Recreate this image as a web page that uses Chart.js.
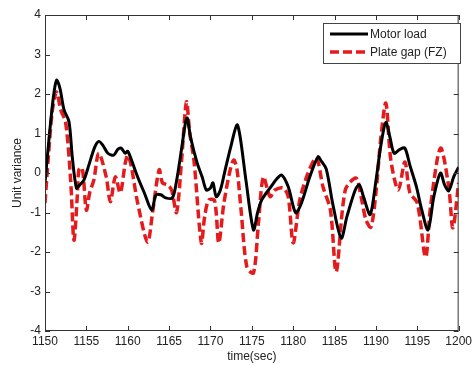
<!DOCTYPE html>
<html>
<head>
<meta charset="utf-8">
<script src="https://cdn.jsdelivr.net/npm/chart.js@4.4.1/dist/chart.umd.min.js"></script>
<style>
  html, body { margin: 0; padding: 0; background: #fff; }
  #wrap { width: 475px; height: 365px; position: relative; }
</style>
</head>
<body>
<div id="wrap"><canvas id="chart"></canvas></div>
<script>
// --- data ---
var motorTime = [1150.0, 1150.5, 1151.0, 1151.4, 1151.8, 1152.3, 1152.9, 1153.3, 1153.8, 1154.2,
  1154.7, 1155.3, 1156.0, 1156.5, 1157.0, 1157.6, 1158.3, 1158.8, 1159.2, 1159.7,
  1160.0, 1160.5, 1161.2, 1162.0, 1162.9, 1163.4, 1164.0, 1164.6, 1165.4, 1165.9,
  1166.5, 1167.0, 1167.2, 1167.6, 1168.4, 1169.0, 1169.5, 1170.0, 1170.3, 1170.7,
  1171.2, 1171.8, 1172.5, 1173.2, 1173.6, 1174.3, 1175.2, 1175.7, 1176.2, 1177.3,
  1178.0, 1178.6, 1179.4, 1180.3, 1181.0, 1182.0, 1183.0, 1183.4, 1184.0, 1184.8,
  1185.8, 1186.5, 1187.5, 1188.0, 1188.5, 1189.3, 1190.0, 1190.6, 1191.2, 1191.7,
  1192.2, 1192.9, 1193.5, 1194.1, 1194.9, 1195.5, 1196.3, 1197.0, 1197.8, 1198.3,
  1198.8, 1199.4, 1200.0];
var motorLoad = [-0.25, 0.9, 1.9, 2.35, 2.15, 1.6, 1.3, 0.4, -0.38, -0.3,
  -0.18, 0.2, 0.65, 0.8, 0.7, 0.5, 0.45, 0.6, 0.63, 0.5,
  0.55, 0.3, -0.1, -0.5, -0.94, -0.56, -0.55, -0.63, -0.63, -0.2,
  0.6, 1.3, 1.39, 0.9, 0.25, -0.1, -0.43, -0.38, -0.25, -0.6,
  -0.43, 0.1, 0.7, 1.22, 0.9, -0.2, -1.44, -1.0, -0.68, -0.35,
  -0.15, -0.05, -0.35, -1.01, -0.76, -0.1, 0.41, 0.3, 0.1, -0.8,
  -1.65, -1.1, -0.43, -0.3, -0.6, -1.05, -0.2, 0.7, 1.28, 0.9,
  0.5, 0.6, 0.63, 0.2, -0.35, -0.9, -1.44, -0.6, 0.0, -0.3,
  -0.45, -0.1, 0.15];

var gapTime = [1150.0, 1150.4, 1150.9, 1151.4, 1151.9, 1152.5, 1153.1, 1153.5, 1153.9, 1154.1,
  1154.5, 1155.0, 1155.4, 1155.9, 1156.5, 1157.4, 1157.9, 1158.5, 1159.1, 1159.7,
  1160.0, 1160.4, 1161.2, 1162.4, 1163.0, 1163.8, 1164.2, 1164.8, 1165.3, 1165.9,
  1166.5, 1167.1, 1167.5, 1168.0, 1168.9, 1169.3, 1169.8, 1170.5, 1171.0, 1171.6,
  1172.3, 1172.8, 1173.2, 1173.7, 1174.4, 1175.2, 1175.8, 1176.4, 1177.2, 1177.8,
  1178.8, 1179.4, 1180.0, 1180.8, 1181.8, 1182.8, 1183.6, 1184.5, 1185.2, 1186.3,
  1187.6, 1188.2, 1188.8, 1189.4, 1190.0, 1190.6, 1191.2, 1191.8, 1192.7, 1193.5,
  1194.1, 1195.0, 1196.0, 1196.6, 1197.8, 1198.8, 1199.3, 1200.0];
var plateGap = [-0.76, 0.4, 1.6, 2.05, 1.6, 1.27, -0.18, -1.7, -0.6, 0.08,
  0.13, -0.94, -0.5, -0.18, 0.5, -0.1, -0.73, -0.1, -0.5, 0.25,
  0.45, 0.2, -0.76, -1.75, -1.0, 0.08, -0.25, -0.3, -0.43, -1.0,
  0.3, 1.8, 1.0, 0.33, -1.77, -1.1, -0.68, -0.7, -1.77, -0.8,
  0.0, 0.33, 0.1, -0.94, -2.38, -2.53, -1.27, -0.1, -0.6, -0.43,
  -0.38, -0.6, -1.77, -0.68, 0.0, 0.38, -0.35, -0.94, -2.5, -0.43,
  -0.13, -0.6, -1.19, -1.37, -0.5, 0.9, 1.77, 0.33, -0.43, 0.28,
  -0.5, -0.76, -2.13, -0.86, 0.63, -0.35, -1.39, -0.25];

var seriesNames = ['Motor load', 'Plate gap (FZ)'];
var xTicks = [1150, 1155, 1160, 1165, 1170, 1175, 1180, 1185, 1190, 1195, 1200];
var yTicks = [-4, -3, -2, -1, 0, 1, 2, 3, 4];

var FONT = '"Liberation Sans", Arial, sans-serif';

function toPoints(xs, ys) {
  return xs.map(function(x, i) { return { x: x, y: ys[i] }; });
}

// MATLAB style box, inward ticks and legend inside the axes
var boxPlugin = {
  id: 'matlabBox',
  afterDatasetsDraw: function(chart) {
    var ctx = chart.ctx, a = chart.chartArea;
    var xs = chart.scales.x, ys = chart.scales.y;
    ctx.save();
    ctx.strokeStyle = '#333';
    ctx.lineWidth = 1;
    ctx.strokeRect(a.left + 0.5, a.top + 0.5, a.right - a.left - 1, a.bottom - a.top - 1);
    ctx.beginPath();
    xTicks.forEach(function(v) {
      var px = Math.round(xs.getPixelForValue(v)) + 0.5;
      ctx.moveTo(px, a.bottom); ctx.lineTo(px, a.bottom - 5);
      ctx.moveTo(px, a.top); ctx.lineTo(px, a.top + 5);
    });
    yTicks.forEach(function(v) {
      var py = Math.round(ys.getPixelForValue(v)) + 0.5;
      ctx.moveTo(a.left, py); ctx.lineTo(a.left + 5, py);
      ctx.moveTo(a.right, py); ctx.lineTo(a.right - 5, py);
    });
    ctx.stroke();

    // legend box
    var lx = 323, ly = 23, lw = 137, lh = 40;
    ctx.fillStyle = '#fff';
    ctx.fillRect(lx, ly, lw, lh);
    ctx.strokeStyle = '#444';
    ctx.strokeRect(lx + 0.5, ly + 0.5, lw, lh);
    ctx.font = '12px ' + FONT;
    ctx.textBaseline = 'middle';
    chart.data.datasets.forEach(function(ds, i) {
      var yy = ly + 11 + i * 18;
      ctx.beginPath();
      ctx.strokeStyle = ds.borderColor;
      ctx.lineWidth = ds.borderWidth;
      ctx.setLineDash(ds.borderDash || []);
      ctx.moveTo(lx + 7, yy); ctx.lineTo(lx + 45, yy);
      ctx.stroke();
      ctx.setLineDash([]);
      ctx.fillStyle = '#222';
      ctx.fillText(ds.label, lx + 47, yy + 1);
    });
    ctx.restore();
  }
};

new Chart(document.getElementById('chart'), {
  type: 'line',
  data: {
    datasets: [
      {
        label: seriesNames[0],
        data: toPoints(motorTime, motorLoad),
        borderColor: '#000',
        borderWidth: 3,
        pointRadius: 0,
        tension: 0.3,
        fill: false
      },
      {
        label: seriesNames[1],
        data: toPoints(gapTime, plateGap),
        borderColor: '#e41a1c',
        borderWidth: 3.5,
        borderDash: [9, 4],
        pointRadius: 0,
        tension: 0.3,
        fill: false
      }
    ]
  },
  options: {
    responsive: true,
    maintainAspectRatio: false,
    animation: false,
    layout: { padding: { top: 15, right: 14, left: 0, bottom: 0 } },
    plugins: {
      legend: { display: false },
      tooltip: { enabled: false }
    },
    scales: {
      x: {
        type: 'linear',
        min: 1150,
        max: 1200,
        afterBuildTicks: function(s) { s.ticks = xTicks.map(function(v) { return { value: v }; }); },
        afterFit: function(s) { s.height = 34; },
        grid: { display: false, drawTicks: false },
        border: { display: false },
        ticks: {
          padding: 3,
          color: '#222',
          font: { family: FONT, size: 12 },
          maxRotation: 0,
          autoSkip: false,
          callback: function(v) { return String(v); }
        },
        title: {
          display: true,
          text: 'time(sec)',
          color: '#222',
          padding: { top: 0, bottom: 1 },
          font: { family: FONT, size: 12 }
        }
      },
      y: {
        min: -4,
        max: 4,
        afterBuildTicks: function(s) { s.ticks = yTicks.map(function(v) { return { value: v }; }); },
        afterFit: function(s) { s.width = 45; },
        grid: { display: false, drawTicks: false },
        border: { display: false },
        ticks: {
          padding: 4,
          color: '#222',
          font: { family: FONT, size: 12 },
          callback: function(v) { return String(v); }
        },
        title: {
          display: true,
          text: 'Unit variance',
          color: '#222',
          padding: { top: 10, bottom: 0 },
          font: { family: FONT, size: 12 }
        }
      }
    }
  },
  plugins: [boxPlugin]
});
</script>
</body>
</html>
